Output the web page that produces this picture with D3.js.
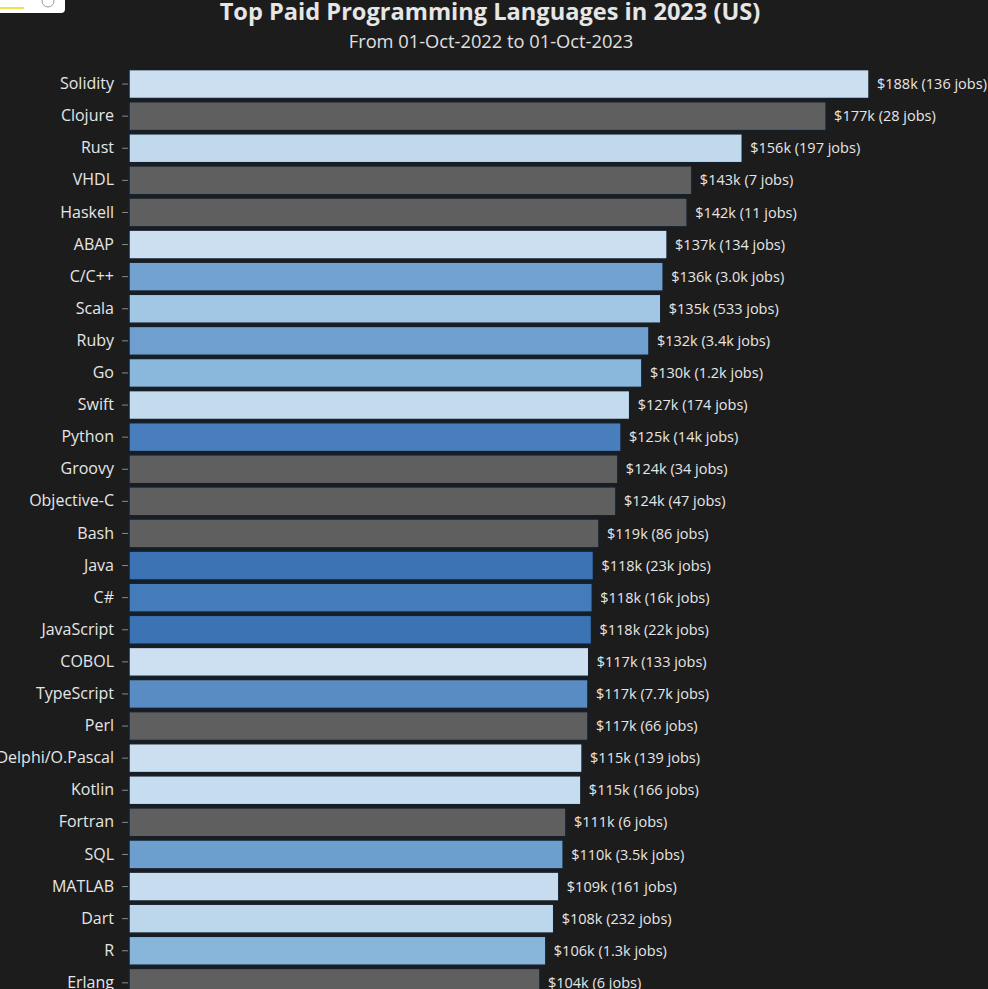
<!DOCTYPE html>
<html>
<head>
<meta charset="utf-8">
<script src="https://cdn.jsdelivr.net/npm/d3@7"></script>
<style>
  html, body { margin: 0; padding: 0; background: #1c1c1c; overflow: hidden; }
  svg { display: block; font-family: "Open Sans", "Noto Sans", sans-serif; }
  .tick text { fill: #e6e6e6; }
  .tick line { stroke: #8a8a8a; }
</style>
</head>
<body>
<svg id="vis"></svg>
<script>
var languages = ["Solidity", "Clojure", "Rust", "VHDL", "Haskell", "ABAP", "C/C++", "Scala", "Ruby", "Go",
    "Swift", "Python", "Groovy", "Objective-C", "Bash", "Java", "C#", "JavaScript", "COBOL", "TypeScript",
    "Perl", "Delphi/O.Pascal", "Kotlin", "Fortran", "SQL", "MATLAB", "Dart", "R", "Erlang"];
// median salary, $k
var salaries = [188.0, 177.1, 155.8, 143.0, 141.8, 136.7, 135.7, 135.1, 132.1, 130.3,
    127.2, 125.0, 124.2, 123.7, 119.4, 118.0, 117.7, 117.5, 116.8, 116.6,
    116.6, 115.1, 114.8, 111.0, 110.3, 109.2, 107.9, 105.9, 104.4];
// job postings
var jobs = [136, 28, 197, 7, 11, 134, 3000, 533, 3400, 1200,
    174, 14000, 34, 47, 86, 23000, 16000, 22000, 133, 7700,
    66, 139, 166, 6, 3500, 161, 232, 1300, 6];

var title = "Top Paid Programming Languages in 2023 (US)";
var subtitle = "From 01-Oct-2022 to 01-Oct-2023";

function intro() {
    var width = 988,
        height = 1000;
    var svg = d3.select("#vis")
        .attr("width", width)
        .attr("height", height);

    var data = languages.map(function(d, i) {
        return { lang: d, salary: salaries[i], jobs: jobs[i] };
    });

    var x = d3.scaleLinear()
        .domain([0, d3.max(salaries)])
        .range([129, 869]);

    var y = d3.scaleBand()
        .domain(languages)
        .range([68, 68 + languages.length * 32.1])
        .paddingInner(0.1)
        .paddingOuter(0.05);

    var blue = d3.scaleLog()
        .domain([130, 1200, 23000])
        .range(["#cde0f1", "#8ab8dc", "#3a72b4"])
        .clamp(true);

    function barColor(d) {
        return d.jobs < 100 ? "#5f5f5f" : blue(d.jobs);
    }

    // cut-off widget in the corner
    svg.append("path")
        .attr("d", "M0,0 H65 V9 Q65,13 61,13 H0 Z")
        .attr("fill", "#ffffff");
    svg.append("circle")
        .attr("cx", 48).attr("cy", 1).attr("r", 6)
        .attr("fill", "none").attr("stroke", "#9a9a9a");
    svg.append("rect")
        .attr("x", 0).attr("y", 7).attr("width", 24).attr("height", 2)
        .attr("fill", "#f2e24a");

    svg.append("text")
        .attr("x", 490).attr("y", 20)
        .attr("text-anchor", "middle")
        .attr("fill", "#e6e6e6")
        .attr("font-size", 23.6)
        .attr("font-weight", "bold")
        .text(title);

    svg.append("text")
        .attr("x", 491).attr("y", 48)
        .attr("text-anchor", "middle")
        .attr("fill", "#e0e0e0")
        .attr("font-size", 18.3)
        .text(subtitle);

    svg.append("g")
        .selectAll("rect")
        .data(data)
        .enter().append("rect")
        .attr("x", x(0))
        .attr("y", function(d) { return y(d.lang); })
        .attr("width", function(d) { return x(d.salary) - x(0); })
        .attr("height", y.bandwidth())
        .attr("fill", barColor)
        .attr("stroke", "#14202e")
        .attr("stroke-width", 1.5);

    svg.append("g")
        .selectAll("text")
        .data(data)
        .enter().append("text")
        .attr("x", function(d) { return x(d.salary) + 8; })
        .attr("y", function(d) { return y(d.lang) + y.bandwidth() / 2; })
        .attr("dy", "0.35em")
        .attr("fill", "#e6e6e6")
        .attr("font-size", 14.5)
        .text(function(d) {
            var j = d.jobs >= 1000 ? d3.format(d.jobs >= 10000 ? ".0f" : ".1f")(d.jobs / 1000) + "k" : d.jobs;
            return "$" + Math.round(d.salary) + "k (" + j + " jobs)";
        });

    svg.append("g")
        .attr("transform", "translate(128,0)")
        .call(d3.axisLeft(y).tickSize(6).tickPadding(8))
        .attr("font-family", "'Open Sans', 'Noto Sans', sans-serif")
        .attr("font-size", 16)
        .call(function(g) { g.select(".domain").remove(); });
}
window.onload = intro;
</script>
</body>
</html>
